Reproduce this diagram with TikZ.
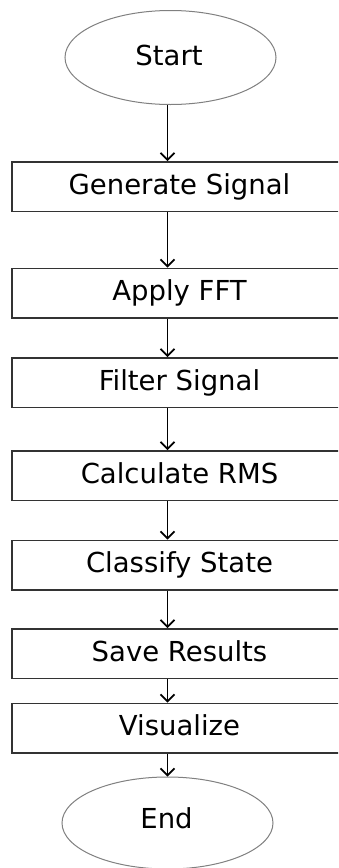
\documentclass[tikz,border=0pt]{standalone}
\usepackage{fontspec}
\setmainfont{DejaVu Sans}
\usetikzlibrary{shapes.geometric,arrows.meta}
\begin{document}
\begin{tikzpicture}[x=1pt,y=-1pt,
  stepbox/.style={draw=black!80,line width=1.5pt,rectangle,minimum width=348pt,minimum height=49.5pt,inner sep=0pt},
  term/.style={draw=black!50,line width=1pt,ellipse,minimum width=211pt,minimum height=94pt,inner sep=0pt},
  lbl/.style={font=\fontsize{27.5}{32}\selectfont,text height=19.5pt,text depth=0pt,inner sep=0pt},
  flow/.style={draw=black,line width=1.9pt,-{Straight Barb[length=7pt,width=14pt,line width=1.7pt]}}]
\useasboundingbox (0,0) rectangle (338,868);
\clip (0,0) rectangle (338,868);
\fill[white] (0,0) rectangle (338,868);
\node[term] (start) at (170.5,57.5) {};
\node[lbl] (tstart) at (169,55.5) {Start};
\node[stepbox] (gen) at (186,186.5) {};
\node[lbl] (tgen) at (179.5,184.7) {Generate Signal};
\node[stepbox] (fft) at (186,293) {};
\node[lbl] (tfft) at (179.5,291.2) {Apply FFT};
\node[stepbox] (filt) at (186,382.5) {};
\node[lbl] (tfilt) at (179.5,380.7) {Filter Signal};
\node[stepbox] (rms) at (186,475.5) {};
\node[lbl] (trms) at (179.5,473.7) {Calculate RMS};
\node[stepbox] (cls) at (186,565) {};
\node[lbl] (tcls) at (179.5,563.2) {Classify State};
\node[stepbox] (save) at (186,653.5) {};
\node[lbl] (tsave) at (179.5,651.7) {Save Results};
\node[stepbox] (vis) at (186,728) {};
\node[lbl] (tvis) at (179.5,726.2) {Visualize};
\node[term,minimum height=92pt] (end) at (167.5,823) {};
\node[lbl] (tend) at (166.5,818.3) {End};
\coordinate (ax) at (167.5,0);
\draw[flow] (start.south -| ax) -- (gen.north -| ax);
\draw[flow] (gen.south -| ax) -- (fft.north -| ax);
\draw[flow] (fft.south -| ax) -- (filt.north -| ax);
\draw[flow] (filt.south -| ax) -- (rms.north -| ax);
\draw[flow] (rms.south -| ax) -- (cls.north -| ax);
\draw[flow] (cls.south -| ax) -- (save.north -| ax);
\draw[flow] (save.south -| ax) -- (vis.north -| ax);
\draw[flow] (vis.south -| ax) -- (end.north -| ax);
\end{tikzpicture}
\end{document}
